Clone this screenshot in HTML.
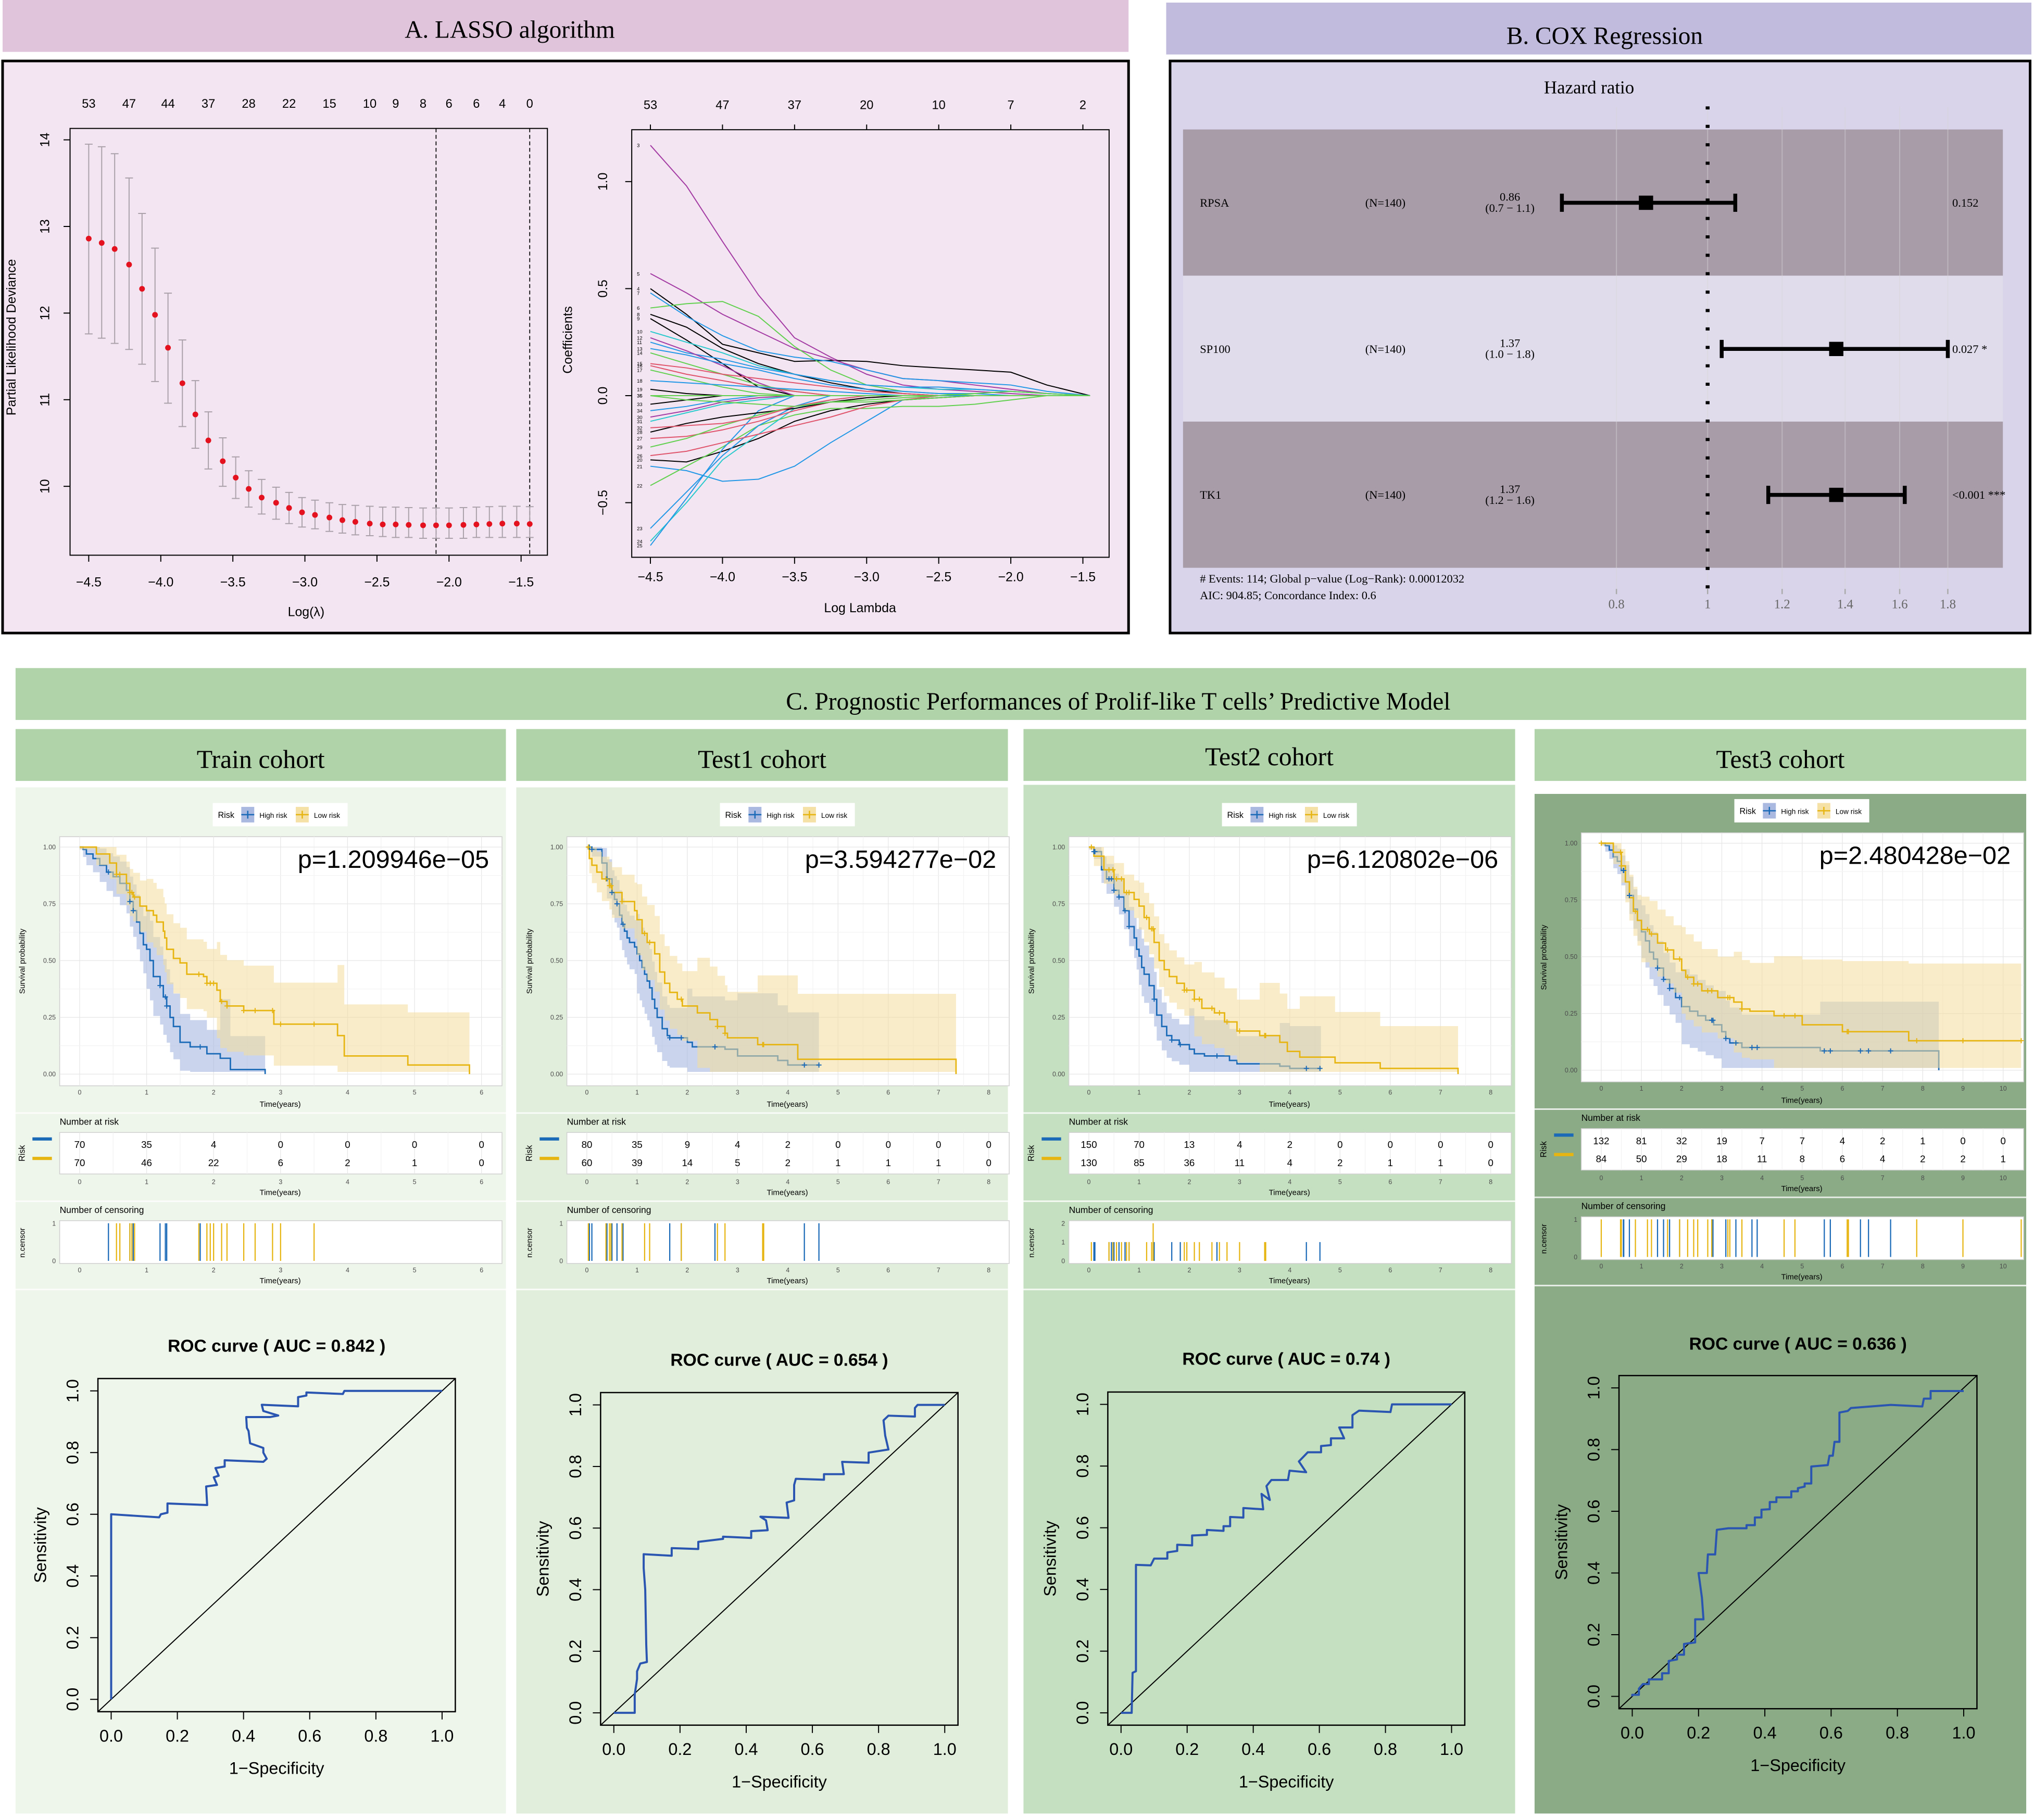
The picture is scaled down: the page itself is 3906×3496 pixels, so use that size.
<!DOCTYPE html>
<html><head><meta charset="utf-8">
<style>
html,body{margin:0;padding:0;background:#fff;}
svg{display:block;}
text{font-family:"Liberation Sans",sans-serif;}
text.serif,.serif text{font-family:"Liberation Serif",serif;}
</style></head>
<body>
<svg id="fig" xmlns="http://www.w3.org/2000/svg" width="3906" height="3496" viewBox="0 0 1568 1403" preserveAspectRatio="none">
<rect x="0" y="0" width="1568" height="1403" fill="#ffffff"/>
<!-- Panel A -->
<rect x="2" y="0" width="868" height="40" fill="#e0c4dc"/>
<text x="393" y="29" font-size="19" text-anchor="middle" class="serif">A. LASSO algorithm</text>
<rect x="2" y="47" width="868" height="441" fill="#f3e6f2" stroke="#000" stroke-width="2"/>
<!-- Panel B -->
<rect x="899" y="2" width="667" height="40" fill="#c1bcdd"/>
<text x="1237" y="34" font-size="19" text-anchor="middle" class="serif">B. COX Regression</text>
<rect x="902" y="47" width="663" height="441" fill="#d9d4ea" stroke="#000" stroke-width="2"/>
<!-- Panel C -->
<rect x="12" y="515" width="1550" height="40" fill="#b0d3a9"/>
<text x="862" y="547" font-size="19" text-anchor="middle" class="serif">C. Prognostic Performances of Prolif-like T cells’ Predictive Model</text>
<g id="cohorts"></g>
</svg>
<script>
const NS="http://www.w3.org/2000/svg";
const S=document.getElementById('fig');
const SERIF='font-family:"Liberation Serif",serif';
function mk(tag,attrs,parent,txt){const e=document.createElementNS(NS,tag);for(const k in attrs)e.setAttribute(k,attrs[k]);(parent||S).appendChild(e);if(txt!==undefined)e.textContent=txt;return e;}

/* ================= LASSO CV data ================= */
const cvLogLambda=[-4.50,-4.41,-4.32,-4.22,-4.13,-4.04,-3.95,-3.85,-3.76,-3.67,-3.57,-3.48,-3.39,-3.30,-3.20,-3.11,-3.02,-2.93,-2.83,-2.74,-2.65,-2.55,-2.46,-2.37,-2.28,-2.18,-2.09,-2.00,-1.90,-1.81,-1.72,-1.63,-1.53,-1.44];
const cvMean=[12.86,12.81,12.74,12.56,12.28,11.98,11.6,11.19,10.83,10.53,10.29,10.1,9.97,9.87,9.81,9.75,9.70,9.67,9.64,9.61,9.59,9.57,9.56,9.56,9.555,9.55,9.55,9.55,9.555,9.56,9.565,9.57,9.57,9.565];
const cvUpper=[13.95,13.92,13.84,13.56,13.15,12.75,12.23,11.69,11.22,10.86,10.56,10.34,10.18,10.08,9.99,9.93,9.87,9.84,9.81,9.79,9.78,9.77,9.76,9.76,9.755,9.75,9.75,9.75,9.755,9.76,9.765,9.77,9.77,9.765];
const cvLower=[11.76,11.71,11.65,11.58,11.41,11.21,10.96,10.69,10.44,10.2,10.0,9.86,9.76,9.68,9.62,9.57,9.53,9.51,9.48,9.46,9.44,9.43,9.42,9.41,9.41,9.40,9.40,9.40,9.40,9.41,9.41,9.41,9.41,9.41];
const cvTopLabels=["53","47","44","37","28","22","15","10","9","8","6","6","4","0"];
const cvTopLabelLambda=[-4.50,-4.22,-3.95,-3.67,-3.39,-3.11,-2.83,-2.55,-2.37,-2.18,-2.00,-1.81,-1.63,-1.44];
const cvVLines=[-2.09,-1.44];
const cvXTicks=[-4.5,-4.0,-3.5,-3.0,-2.5,-2.0,-1.5];
const cvYTicks=[10,11,12,13,14];

/* ================= LASSO coefficient path data ================= */
const pathLambda=[-4.5,-4.25,-4,-3.75,-3.5,-3.25,-3,-2.75,-2.5,-2.25,-2,-1.75,-1.45];
const pathC1=[1.17,0.98,0.72,0.47,0.27,0.18,0.1,0.05,0.03,0.02,0.01,0,0];
const pathC2=[0.50,0.38,0.24,0.2,0.16,0.165,0.16,0.14,0.13,0.12,0.11,0.05,0];
const pathC3=[0.57,0.48,0.38,0.3,0.22,0.17,0.12,0.08,0.07,0.05,0.03,0.01,0];
const pathC4=[0.41,0.43,0.44,0.37,0.23,0.12,0.05,0.02,0.01,0,0,0,0];
const pathC5=[0.48,0.37,0.28,0.21,0.18,0.16,0.12,0.08,0.07,0.06,0.05,0.02,0];
const pathC6=[0.38,0.32,0.22,0.15,0.1,0.06,0.03,0.01,0,0,0,0,0];
const pathC7=[0.36,0.26,0.15,0.04,0,0,0,0,0,0,0,0,0];
const pathC8=[0.30,0.25,0.2,0.14,0.1,0.07,0.05,0.04,0.03,0.03,0.02,0.01,0];
const pathC9=[0.25,0.2,0.17,0.13,0.1,0.07,0.05,0.04,0.04,0.03,0.02,0.01,0];
const pathC10=[0.27,0.21,0.14,0.06,0,0,0,0,0,0,0,0,0];
const pathC11=[0.22,0.19,0.15,0.12,0.08,0.05,0.03,0.02,0.01,0.01,0,0,0];
const pathC12=[0.20,0.15,0.1,0.05,0.02,0,0,0,0,0,0,0,0];
const pathC13=[0.15,0.13,0.10,0.08,0.06,0.04,0.02,0.01,0,0,0,0,0];
const pathC14=[0.14,0.1,0.07,0.04,0.02,0,0,0,0,0,0,0,0];
const pathC15=[0.12,0.08,0.04,0.01,0,0,0,0,0,0,0,0,0];
const pathC16=[0.07,0.06,0.05,0.04,0.03,0.02,0.01,0,0,0,0,0,0];
const pathC17=[0.03,0.01,0,0,0,0,0,0,0,0,0,0,0];
const pathC18=[-0.3,-0.31,-0.26,-0.2,-0.12,-0.07,-0.04,-0.02,-0.01,0,0,0,0];
const pathC19=[-0.33,-0.35,-0.4,-0.39,-0.33,-0.22,-0.12,-0.02,0,0,0,0,0];
const pathC20=[-0.42,-0.33,-0.24,-0.14,-0.09,-0.06,-0.06,-0.05,-0.05,-0.04,-0.02,0,0];
const pathC21=[-0.62,-0.45,-0.28,-0.14,-0.05,0,0,0,0,0,0,0,0];
const pathC22=[-0.68,-0.5,-0.3,-0.18,-0.06,-0.02,0,0,0,0,0,0,0];
const pathC23=[-0.7,-0.48,-0.25,-0.07,0,0,0,0,0,0,0,0,0];
const pathC24=[-0.28,-0.26,-0.22,-0.18,-0.14,-0.1,-0.05,-0.02,0,0,0,0,0];
const pathC25=[-0.2,-0.19,-0.16,-0.12,-0.07,-0.03,-0.01,0,0,0,0,0,0];
const pathC26=[-0.17,-0.13,-0.1,-0.08,-0.06,-0.03,-0.01,0,0,0,0,0,0];
const pathC27=[-0.24,-0.2,-0.14,-0.09,-0.05,-0.03,-0.02,-0.01,0,0,0,0,0];
const pathC28=[-0.1,-0.07,-0.03,-0.01,0,0,0,0,0,0,0,0,0];
const pathC29=[-0.12,-0.08,-0.04,-0.02,0,0,0,0,0,0,0,0,0];
const pathC30=[-0.15,-0.14,-0.13,-0.1,-0.05,-0.02,0,0,0,0,0,0,0];
const pathC31=[-0.04,-0.02,0,0,0,0,0,0,0,0,0,0,0];
const pathC32=[-0.07,-0.05,-0.02,0,0,0,0,0,0,0,0,0,0];
const pathC33=[0,-0.02,-0.03,-0.04,-0.05,-0.03,-0.03,-0.02,-0.01,0,0,0,0];
const pathC34=[0,0,0,0,0,0,0,0,0,0.01,0.02,0.01,0];
const pathSeries=[pathC1,pathC2,pathC3,pathC4,pathC5,pathC6,pathC7,pathC8,pathC9,pathC10,pathC11,pathC12,pathC13,pathC14,pathC15,pathC16,pathC17,pathC18,pathC19,pathC20,pathC21,pathC22,pathC23,pathC24,pathC25,pathC26,pathC27,pathC28,pathC29,pathC30,pathC31,pathC32,pathC33,pathC34];
const pathColorIdx=[5,0,5,2,3,0,0,4,3,5,3,2,1,1,2,3,0,0,3,2,3,4,3,1,1,0,2,5,4,1,0,3,2,2];
const pathTopLabels=["53","47","37","20","10","7","2"];
const pathTopLambda=[-4.5,-4,-3.5,-3,-2.5,-2,-1.5];
const pathYTicks=[-0.5,0.0,0.5,1.0];
const pathYTickLabels=["−0.5","0.0","0.5","1.0"];

/* ================= Cox forest data ================= */
const coxNames=["RPSA","SP100","TK1"];
const coxHR=[0.86,1.37,1.37];
const coxLo=[0.70,1.035,1.16];
const coxHi=[1.07,1.80,1.62];
const coxEst=["0.86","1.37","1.37"];
const coxCI=["(0.7 − 1.1)","(1.0 − 1.8)","(1.2 − 1.6)"];
const coxP=["0.152","0.027 *","<0.001 ***"];
const coxTicks=[0.8,1,1.2,1.4,1.6,1.8];

/* ================= KM data ================= */
const trainHighT=[0,0.05,0.1,0.2,0.3,0.4,0.5,0.6,0.7,0.75,0.8,0.85,0.9,0.95,1.0,1.05,1.1,1.2,1.25,1.3,1.35,1.4,1.5,1.65,1.9,2.1,2.25,2.77,2.77];
const trainHighS=[1,0.99,0.97,0.95,0.92,0.89,0.87,0.84,0.81,0.76,0.72,0.67,0.62,0.57,0.55,0.50,0.43,0.39,0.34,0.30,0.25,0.21,0.14,0.12,0.09,0.07,0.02,0.02,0];
const trainLowT=[0,0.25,0.45,0.55,0.7,0.75,0.8,0.9,1.0,1.1,1.15,1.25,1.27,1.3,1.4,1.5,1.6,1.85,1.9,2.05,2.1,2.2,2.45,2.9,3.85,3.95,4.9,5.82,5.82];
const trainLowS=[1,0.97,0.93,0.88,0.84,0.80,0.78,0.74,0.72,0.70,0.67,0.63,0.60,0.55,0.51,0.49,0.44,0.43,0.40,0.37,0.32,0.30,0.28,0.22,0.17,0.08,0.04,0.04,0];
const trainRiskHigh=[70,35,4,0,0,0,0];
const trainRiskLow=[70,46,22,6,2,1,0];
const trainCensHigh=[0.43,0.75,0.8,1.2,1.28,1.3,1.8];
const trainCensLow=[0.55,0.6,0.75,0.78,0.82,1.78,1.9,1.95,2.0,2.12,2.2,2.45,2.62,2.88,3.0,3.5];

const test1HighT=[0,0.1,0.3,0.4,0.5,0.55,0.6,0.65,0.7,0.75,0.8,0.85,0.95,1.0,1.05,1.1,1.15,1.2,1.25,1.3,1.35,1.4,1.5,1.6,1.65,2.0,2.1,2.75,3.0,3.8,4.0,4.62];
const test1HighS=[1,0.99,0.93,0.86,0.80,0.77,0.75,0.70,0.66,0.63,0.60,0.58,0.56,0.53,0.50,0.47,0.44,0.41,0.38,0.33,0.29,0.25,0.20,0.17,0.16,0.14,0.12,0.11,0.08,0.06,0.04,0.04];
const test1LowT=[0,0.05,0.1,0.2,0.3,0.45,0.5,0.7,0.95,1.0,1.1,1.2,1.35,1.45,1.55,1.65,1.8,1.9,2.2,2.45,2.6,2.75,2.8,3.4,4.2,7.35,7.35];
const test1LowS=[1,0.95,0.92,0.89,0.86,0.83,0.80,0.76,0.72,0.68,0.62,0.58,0.53,0.45,0.40,0.36,0.33,0.30,0.27,0.24,0.21,0.18,0.16,0.13,0.065,0.065,0];
const test1RiskHigh=[80,35,9,4,2,0,0,0,0];
const test1RiskLow=[60,39,14,5,2,1,1,1,0];
const test1CensHigh=[0.05,0.1,0.4,0.5,0.6,0.72,1.65,1.88,2.55,4.33,4.62];
const test1CensLow=[0.03,0.38,0.45,0.48,0.7,1.15,1.25,1.88,2.6,2.75,3.5,3.52];

const test2HighT=[0,0.1,0.25,0.35,0.5,0.6,0.7,0.8,0.9,0.95,1.0,1.05,1.1,1.2,1.3,1.35,1.45,1.55,1.65,1.8,2.0,2.1,2.3,2.8,2.95,3.8,4.0,4.62];
const test2HighS=[1,0.98,0.9,0.86,0.81,0.78,0.72,0.65,0.60,0.55,0.52,0.47,0.44,0.39,0.33,0.26,0.21,0.17,0.15,0.13,0.11,0.09,0.08,0.06,0.045,0.035,0.025,0.025];
const test2LowT=[0,0.1,0.3,0.5,0.7,0.9,1.0,1.1,1.2,1.3,1.4,1.5,1.6,1.75,1.9,2.1,2.25,2.5,2.7,2.95,3.4,3.8,3.95,4.2,4.9,5.8,7.35,7.35];
const test2LowS=[1,0.96,0.90,0.86,0.80,0.77,0.74,0.69,0.64,0.58,0.50,0.46,0.43,0.40,0.37,0.33,0.29,0.27,0.23,0.19,0.17,0.14,0.10,0.075,0.05,0.025,0.025,0];
const test2RiskHigh=[150,70,13,4,2,0,0,0,0];
const test2RiskLow=[130,85,36,11,4,2,1,1,0];
const test2CensHigh=[0.1,0.12,0.4,0.45,0.5,0.6,0.72,0.8,1.3,1.65,1.82,2.55,4.33,4.6];
const test2CensLow=[0.05,0.4,0.48,0.55,0.65,0.75,0.8,1.15,1.25,1.28,1.28,1.9,1.95,2.1,2.2,2.45,2.6,2.75,3.0,3.5,3.52];

const test3HighT=[0,0.1,0.2,0.3,0.4,0.5,0.6,0.7,0.8,0.9,1.0,1.1,1.2,1.3,1.4,1.55,1.7,1.85,2.0,2.2,2.4,2.6,2.8,3.0,3.1,3.2,3.5,5.45,8.4,8.4];
const test3HighS=[1,0.99,0.97,0.94,0.92,0.88,0.83,0.77,0.71,0.66,0.61,0.57,0.52,0.49,0.45,0.40,0.36,0.32,0.28,0.26,0.24,0.22,0.20,0.17,0.14,0.12,0.10,0.085,0.085,0];
const test3LowT=[0,0.3,0.5,0.6,0.7,0.8,0.9,1.0,1.2,1.4,1.6,1.8,2.0,2.1,2.3,2.5,2.9,3.3,3.5,3.7,4.3,5.0,6.0,7.65,10.45];
const test3LowS=[1,0.96,0.9,0.83,0.76,0.70,0.66,0.62,0.60,0.56,0.53,0.49,0.44,0.41,0.38,0.35,0.32,0.30,0.27,0.26,0.24,0.20,0.17,0.13,0.13];
const test3RiskHigh=[132,81,32,19,7,7,4,2,1,0,0];
const test3RiskLow=[84,50,29,18,11,8,6,4,2,2,1];
const test3CensHigh=[0.55,0.56,0.7,1.4,1.55,1.7,1.95,2.75,2.78,3.1,3.35,3.75,3.88,5.55,5.7,6.45,6.65,7.2];
const test3CensLow=[0,0.48,0.5,0.85,1.15,1.25,1.65,1.95,2.15,2.3,2.4,2.65,2.75,3.15,3.2,3.5,4.55,4.82,6.12,6.15,7.85,9.0,10.45];

const cohortNames=["Train cohort","Test1 cohort","Test2 cohort","Test3 cohort"];
const cohortPvals=["p=1.209946e−05","p=3.594277e−02","p=6.120802e−06","p=2.480428e−02"];
const cohortTmax=[6,8,8,10];

/* ================= ROC data ================= */
const trainRocFpr=[0,0,0.145,0.15,0.17,0.17,0.29,0.287,0.32,0.31,0.325,0.315,0.343,0.343,0.46,0.47,0.46,0.46,0.42,0.415,0.41,0.408,0.48,0.505,0.46,0.455,0.565,0.565,0.59,0.59,0.7,0.705,0.81,0.84,1];
const trainRocTpr=[0,0.6,0.59,0.6,0.605,0.635,0.63,0.69,0.695,0.72,0.725,0.75,0.755,0.775,0.77,0.78,0.80,0.815,0.83,0.87,0.88,0.915,0.915,0.92,0.935,0.955,0.95,0.98,0.985,0.995,0.99,1.0,1.0,1.0,1];
const test1RocFpr=[0,0.063,0.063,0.07,0.07,0.08,0.1,0.098,0.095,0.09,0.09,0.175,0.175,0.255,0.255,0.33,0.33,0.415,0.415,0.465,0.46,0.443,0.528,0.522,0.545,0.545,0.55,0.635,0.635,0.695,0.69,0.77,0.77,0.83,0.82,0.815,0.83,0.91,0.91,0.918,1];
const test1RocTpr=[0,0,0.06,0.11,0.135,0.16,0.165,0.22,0.4,0.47,0.515,0.51,0.535,0.532,0.555,0.565,0.572,0.568,0.59,0.593,0.625,0.637,0.633,0.683,0.69,0.74,0.76,0.757,0.775,0.775,0.815,0.812,0.845,0.855,0.9,0.95,0.965,0.962,0.99,1.0,1];
const test2RocFpr=[0,0.032,0.035,0.045,0.045,0.09,0.1,0.14,0.14,0.17,0.17,0.215,0.215,0.26,0.26,0.31,0.31,0.33,0.33,0.37,0.37,0.43,0.425,0.45,0.44,0.455,0.505,0.51,0.56,0.538,0.565,0.605,0.605,0.635,0.635,0.675,0.66,0.7,0.7,0.72,0.815,0.82,0.86,1];
const test2RocTpr=[0,0,0.13,0.135,0.48,0.478,0.5,0.5,0.52,0.525,0.545,0.543,0.575,0.577,0.593,0.59,0.605,0.605,0.635,0.633,0.664,0.66,0.71,0.69,0.735,0.755,0.755,0.785,0.78,0.815,0.845,0.845,0.865,0.868,0.89,0.89,0.925,0.925,0.965,0.98,0.975,1.0,1.0,1];
const test3RocFpr=[0,0,0.02,0.02,0.032,0.05,0.05,0.09,0.09,0.11,0.11,0.135,0.135,0.156,0.156,0.19,0.19,0.215,0.21,0.2,0.225,0.228,0.25,0.255,0.29,0.345,0.345,0.37,0.37,0.39,0.39,0.415,0.415,0.435,0.435,0.48,0.48,0.5,0.5,0.52,0.52,0.54,0.54,0.59,0.595,0.605,0.61,0.625,0.625,0.65,0.66,0.72,0.78,0.875,0.88,0.9,0.9,1];
const test3RocTpr=[0,0.005,0.005,0.025,0.04,0.04,0.055,0.055,0.075,0.075,0.115,0.12,0.135,0.135,0.17,0.175,0.25,0.25,0.32,0.4,0.4,0.46,0.46,0.54,0.545,0.545,0.555,0.555,0.58,0.58,0.605,0.607,0.63,0.63,0.645,0.645,0.665,0.665,0.675,0.68,0.69,0.69,0.745,0.75,0.78,0.78,0.825,0.825,0.92,0.925,0.935,0.94,0.945,0.94,0.965,0.965,0.99,0.99];
const rocAUC=["0.842","0.654","0.74","0.636"];
const rocTicks=[0,0.2,0.4,0.6,0.8,1.0];
const rocTickLabels=["0.0","0.2","0.4","0.6","0.8","1.0"];

/* ================= draw LASSO CV ================= */
(function(){
  const g=mk('g',{});
  
  
  const L=54,R=422,T=99,B=428;
  const xs=l=>68.4+(l+4.5)*(401.7-68.4)/3;
  const ys=v=>107.8+(14-v)*(374.9-107.8)/4;
  const box=mk('rect',{x:L,y:T,width:R-L,height:B-T,fill:'none',stroke:'#000','stroke-width':0.8},g);
  
  
  cvXTicks.forEach(t=>{
    const tk=mk('line',{x1:xs(t),x2:xs(t),y1:B,y2:B+5,stroke:'#000','stroke-width':0.8},g);
    
    
    const lb=mk('text',{x:xs(t),y:452,'font-size':10,'text-anchor':'middle'},g,(t<0?'−':'')+Math.abs(t).toFixed(1));
    
    
  });
  cvYTicks.forEach(t=>{
    const tk=mk('line',{x1:L,x2:L-5,y1:ys(t),y2:ys(t),stroke:'#000','stroke-width':0.8},g);
    
    
    const lb=mk('text',{x:38,y:ys(t),'font-size':10,'text-anchor':'middle',transform:`rotate(-90 38 ${ys(t)})`},g,String(t));
    
    
  });
  const xl=mk('line',{x1:xs(-4.5),x2:xs(-1.5),y1:B,y2:B,stroke:'#000','stroke-width':0.8},g);
  
  
  const yl=mk('line',{x1:L,x2:L,y1:ys(10),y2:ys(14),stroke:'#000','stroke-width':0.8},g);
  
  
  cvTopLabels.forEach((s,i)=>{
    const t=mk('text',{x:xs(cvTopLabelLambda[i]),y:83,'font-size':9.5,'text-anchor':'middle'},g,s);
    
    
  });
  const xt=mk('text',{x:236,y:475,'font-size':10,'text-anchor':'middle'},g,'Log(λ)');
  
  
  const yt=mk('text',{x:12,y:260,'font-size':10,'text-anchor':'middle',transform:'rotate(-90 12 260)'},g,'Partial Likelihood Deviance');
  
  
  cvVLines.forEach(l=>{
    const v=mk('line',{x1:xs(l),x2:xs(l),y1:T,y2:B,stroke:'#000','stroke-width':0.7,'stroke-dasharray':'3,2'},g);
    
    
  });
  cvLogLambda.forEach((l,i)=>{
    const x=xs(l);
    const eb=mk('path',{d:`M${x} ${ys(cvUpper[i])}V${ys(cvLower[i])}M${x-3} ${ys(cvUpper[i])}H${x+3}M${x-3} ${ys(cvLower[i])}H${x+3}`,stroke:'#aaa1ab','stroke-width':0.8,fill:'none'},g);
    
    
    const pt=mk('circle',{cx:x,cy:ys(cvMean[i]),r:2.2,fill:'#e3121e'},g);
    
    
  });
})();

/* ================= draw LASSO coefficient paths ================= */
(function(){
  const g=mk('g',{});
  
  
  const L=487,R=855,T=100,B=429.6;
  const xs=l=>501.4+(l+4.5)*111.13;
  const ys=c=>305-c*165;
  const cols=['#000000','#DF536B','#61D04F','#2297E6','#28C9CC','#A33AA3'];
  const box=mk('rect',{x:L,y:T,width:R-L,height:B-T,fill:'none',stroke:'#000','stroke-width':0.8},g);
  
  
  pathSeries.forEach((ser,k)=>{
    let d='';
    ser.forEach((c,i)=>{d+=(i?'L':'M')+xs(pathLambda[i]).toFixed(1)+' '+ys(c).toFixed(1);});
    const p=mk('path',{d:d,stroke:cols[pathColorIdx[k]],'stroke-width':0.8,fill:'none'},g);
    
    
    const lb=mk('text',{x:491,y:ys(ser[0])+1.5,'font-size':3.8},g,String(k+3));
    
    
  });
  pathTopLambda.forEach((l,i)=>{
    const tk=mk('line',{x1:xs(l),x2:xs(l),y1:T,y2:T-4,stroke:'#000','stroke-width':0.8},g);
    
    
    const t=mk('text',{x:xs(l),y:84,'font-size':9.5,'text-anchor':'middle'},g,pathTopLabels[i]);
    
    
    const bt=mk('line',{x1:xs(l),x2:xs(l),y1:B,y2:B+5,stroke:'#000','stroke-width':0.8},g);
    
    
    const bl=mk('text',{x:xs(l),y:448,'font-size':10,'text-anchor':'middle'},g,'−'+Math.abs(l).toFixed(1));
    
    
  });
  pathYTicks.forEach((c,i)=>{
    const tk=mk('line',{x1:L,x2:L-5,y1:ys(c),y2:ys(c),stroke:'#000','stroke-width':0.8},g);
    
    
    const lb=mk('text',{x:468,y:ys(c),'font-size':10,'text-anchor':'middle',transform:`rotate(-90 468 ${ys(c)})`},g,pathYTickLabels[i]);
    
    
  });
  const xt=mk('text',{x:663,y:472,'font-size':10,'text-anchor':'middle'},g,'Log Lambda');
  
  
  const yt=mk('text',{x:441,y:262,'font-size':10,'text-anchor':'middle',transform:'rotate(-90 441 262)'},g,'Coefficients');
  
  
})();

/* ================= draw Cox forest ================= */
(function(){
  const g=mk('g',{class:'serif'});
  
  
  const xs=v=>1316.4+Math.log(v)*315;
  const rowTop=[99.8,212.5,325];
  const rowFill=['#a89ca9','#e0dcec','#a89ca9'];
  rowTop.forEach((y,i)=>{
    const r=mk('rect',{x:912,y:y,width:632,height:112.7,fill:rowFill[i]},g);
    
    
  });
  coxTicks.forEach(t=>{
    const l=mk('line',{x1:xs(t),x2:xs(t),y1:82.6,y2:454,stroke:'#d8d4d8','stroke-width':0.8,'stroke-opacity':0.45},g);
    
    
    const tk=mk('line',{x1:xs(t),x2:xs(t),y1:454,y2:458,stroke:'#aaa','stroke-width':1},g);
    
    
    const lb=mk('text',{x:xs(t),y:469,'font-size':10,'text-anchor':'middle',fill:'#666',style:SERIF},g,String(t));
    
    
  });
  const ref=mk('line',{x1:xs(1),x2:xs(1),y1:82,y2:456,stroke:'#000','stroke-width':3,'stroke-dasharray':'2.4,11.8'},g);
  
  
  const ht=mk('text',{x:1225,y:72,'font-size':14,'text-anchor':'middle',style:SERIF},g,'Hazard ratio');
  
  
  coxNames.forEach((n,i)=>{
    const cy=rowTop[i]+56.5;
    const a=mk('text',{x:925,y:cy+3,'font-size':9,style:SERIF},g,n);
    
    
    const b=mk('text',{x:1068,y:cy+3,'font-size':9,'text-anchor':'middle',style:SERIF},g,'(N=140)');
    
    
    const c=mk('text',{x:1164,y:cy-1.5,'font-size':9,'text-anchor':'middle',style:SERIF},g,coxEst[i]);
    
    
    const c2=mk('text',{x:1164,y:cy+7,'font-size':9,'text-anchor':'middle',style:SERIF},g,coxCI[i]);
    
    
    const p=mk('text',{x:1505,y:cy+3,'font-size':9,style:SERIF},g,coxP[i]);
    
    
    const ci=mk('path',{d:`M${xs(coxLo[i])} ${cy}H${xs(coxHi[i])}M${xs(coxLo[i])} ${cy-7}V${cy+7}M${xs(coxHi[i])} ${cy-7}V${cy+7}`,stroke:'#000','stroke-width':3,fill:'none'},g);
    
    
    const bx=mk('rect',{x:xs(coxHR[i])-5.5,y:cy-5.5,width:11,height:11,fill:'#000'},g);
    
    
  });
  const f1=mk('text',{x:925,y:449,'font-size':9,style:SERIF},g,'# Events: 114; Global p−value (Log−Rank): 0.00012032');
  
  
  const f2=mk('text',{x:925,y:462,'font-size':9,style:SERIF},g,'AIC: 904.85; Concordance Index: 0.6');
  
  
})();

/* ================= cohort panels ================= */
const KM=[
 {hT:trainHighT,hS:trainHighS,lT:trainLowT,lS:trainLowS,rh:trainRiskHigh,rl:trainRiskLow,ch:trainCensHigh,cl:trainCensLow},
 {hT:test1HighT,hS:test1HighS,lT:test1LowT,lS:test1LowS,rh:test1RiskHigh,rl:test1RiskLow,ch:test1CensHigh,cl:test1CensLow},
 {hT:test2HighT,hS:test2HighS,lT:test2LowT,lS:test2LowS,rh:test2RiskHigh,rl:test2RiskLow,ch:test2CensHigh,cl:test2CensLow},
 {hT:test3HighT,hS:test3HighS,lT:test3LowT,lS:test3LowS,rh:test3RiskHigh,rl:test3RiskLow,ch:test3CensHigh,cl:test3CensLow}
];
const ROC=[[trainRocFpr,trainRocTpr],[test1RocFpr,test1RocTpr],[test2RocFpr,test2RocTpr],[test3RocFpr,test3RocTpr]];
const panelX=[[12,390],[398,777],[789,1168],[1183,1562]];
const panelBodyTop=[607,607,605,612];
const panelFill=['#eef5ea','#e0eedb','#c5e0c0','#8aab86'];
const kmOx=[0,391,778,1173];
const kmOy=[0,0,0,-3];
const rocGeom=[[85.7,340.8,1310,1072.2,1037],[473.2,728.3,1320.4,1083,1047.8],[864.2,1119,1320.4,1082.6,1047],[1258.3,1513.8,1307.7,1069.9,1035.4]];
const BLUE='#1a6ab8', YEL='#e7b512';

const CG=document.getElementById('cohorts');
for(let c=0;c<4;c++){
  const g=mk('g',{},CG);
  
  
  const [px0,px1]=panelX[c];
  const hd=mk('rect',{x:px0,y:562,width:px1-px0,height:40,fill:'#b0d3a9'},g);
  
  
  const ht=mk('text',{x:(px0+px1)/2,y:c==2?590:592,'font-size':20,'text-anchor':'middle',style:SERIF},g,cohortNames[c]);
  
  
  const bd=mk('rect',{x:px0,y:panelBodyTop[c],width:px1-px0,height:1398-panelBodyTop[c],fill:panelFill[c]},g);
  
  
  const ox=kmOx[c], oy=kmOy[c], tmax=cohortTmax[c], D=KM[c];
  [858,926,994].forEach(y=>{
    const wl=mk('line',{x1:px0,x2:px1,y1:y+oy,y2:y+oy,stroke:'#ffffff','stroke-width':1.2,'stroke-opacity':0.8},g);
    
    
  });
  const x0=61.4+ox, x1=371.2+ox;
  const xs=t=>x0+t*(x1-x0)/tmax;
  const Y0=828+oy, Y1=653+oy;
  const ys=s=>Y0-s*(Y0-Y1);
  const BL=46+ox, BR=387+ox;
  const lg=mk('g',{transform:`translate(${ox},${oy})`},g);
  
  
  const lr=mk('rect',{x:164,y:619,width:104,height:18,fill:'#fff'},lg);
  
  
  const lt=mk('text',{x:168,y:630.5,'font-size':6.5},lg,'Risk');
  
  
  const k1=mk('rect',{x:186,y:622,width:10,height:12,fill:'#a9b9e0'},lg);
  
  
  const k1l=mk('path',{d:'M186 628H196M191 625V631',stroke:BLUE,'stroke-width':1},lg);
  
  
  const t1=mk('text',{x:200,y:630.5,'font-size':5.5},lg,'High risk');
  
  
  const k2=mk('rect',{x:228,y:622,width:10,height:12,fill:'#f5e0a6'},lg);
  
  
  const k2l=mk('path',{d:'M228 628H238M233 625V631',stroke:YEL,'stroke-width':1},lg);
  
  
  const t2=mk('text',{x:242,y:630.5,'font-size':5.5},lg,'Low risk');
  
  
  const pb=mk('rect',{x:BL,y:645+oy,width:BR-BL,height:192,fill:'#fff',stroke:'#cfcfcf','stroke-width':0.6},g);
  
  
  for(let t=0;t<=tmax;t+=0.5){
    const gl=mk('line',{x1:xs(t),x2:xs(t),y1:645+oy,y2:837+oy,stroke:t%1?'#f3f3f3':'#e6e6e6','stroke-width':0.5},g);
    
    
  }
  for(let s=0;s<=1.001;s+=0.125){
    const gl=mk('line',{x1:BL,x2:BR,y1:ys(s),y2:ys(s),stroke:(Math.round(s*8)%2)?'#f3f3f3':'#e6e6e6','stroke-width':0.5},g);
    
    
  }
  ['0.00','0.25','0.50','0.75','1.00'].forEach((lab,i)=>{
    const s=i*0.25;
    const yl=mk('text',{x:43+ox,y:ys(s)+1.8,'font-size':5,'text-anchor':'end',fill:'#4d4d4d'},g,lab);
    
    
  });
  const sp=mk('text',{x:19+ox,y:741+oy,'font-size':6,'text-anchor':'middle',transform:`rotate(-90 ${19+ox} ${741+oy})`},g,'Survival probability');
  
  
  function nAt(risk,t){const i=Math.min(risk.length-1,Math.floor(t+1e-9));return Math.max(3,risk[i]);}
  function drawCurve(T,Sv,risk,col,fill,name){
    let up='',lo=[];
    for(let i=0;i<T.length;i++){
      if(Sv[i]<=0) break;
      const tEnd=(i+1<T.length)?T[i+1]:T[i];
      const h=1.96*Math.sqrt(Sv[i]*(1-Sv[i])/nAt(risk,T[i]))+0.01;
      const u=Math.min(1,Sv[i]+h), l=Math.max(0.01,Sv[i]-h);
      up+=(i?'L':'M')+xs(T[i]).toFixed(1)+' '+ys(u).toFixed(1)+'L'+xs(tEnd).toFixed(1)+' '+ys(u).toFixed(1);
      lo.unshift('L'+xs(tEnd).toFixed(1)+' '+ys(l).toFixed(1)+'L'+xs(T[i]).toFixed(1)+' '+ys(l).toFixed(1));
    }
    const band=mk('path',{d:up+lo.join('')+'Z',fill:fill,'fill-opacity':0.55,stroke:'none'},g);
    
    
    let d='M'+xs(T[0]).toFixed(1)+' '+ys(Sv[0]).toFixed(1);
    for(let i=1;i<T.length;i++){d+='H'+xs(T[i]).toFixed(1)+'V'+ys(Sv[i]).toFixed(1);}
    const ln=mk('path',{d:d,stroke:col,'stroke-width':1.1,fill:'none'},g);
    
    
  }
  drawCurve(D.hT,D.hS,D.rh,BLUE,'#9fb2de','high-risk');
  drawCurve(D.lT,D.lS,D.rl,YEL,'#f4dc9a','low-risk');
  function survAt(T,Sv,t){let s=Sv[0];for(let i=0;i<T.length;i++){if(T[i]<=t)s=Sv[i];}return s;}
  function marks(cens,T,Sv,col,name){
    cens.forEach(t=>{
      const x=xs(t),y=ys(survAt(T,Sv,t));
      const m=mk('path',{d:`M${x-2} ${y}H${x+2}M${x} ${y-2}V${y+2}`,stroke:col,'stroke-width':0.8},g);
      
      
    });
  }
  marks(D.ch,D.hT,D.hS,BLUE,'high-risk');
  marks(D.cl,D.lT,D.lS,YEL,'low-risk');
  const pv=mk('text',{x:377+ox,y:669+oy,'font-size':19.5,'text-anchor':'end'},g,cohortPvals[c]);
  
  
  const tickRows=[[842,851],[911,919],[979,987]];
  tickRows.forEach(([ty,tt])=>{
    for(let t=0;t<=tmax;t++){
      const tl=mk('text',{x:xs(t),y:ty+oy+1.8,'font-size':5,'text-anchor':'middle',fill:'#4d4d4d'},g,String(t));
      
      
    }
    const tt1=mk('text',{x:216+ox,y:tt+oy+2.2,'font-size':6,'text-anchor':'middle'},g,'Time(years)');
    
    
  });
  const nr=mk('text',{x:46+ox,y:867+oy,'font-size':7},g,'Number at risk');
  
  
  const rb=mk('rect',{x:BL,y:873+oy,width:BR-BL,height:32,fill:'#fff',stroke:'#cfcfcf','stroke-width':0.6},g);
  
  
  for(let t=0;t<=tmax;t+=0.5){
    const gl=mk('line',{x1:xs(t),x2:xs(t),y1:873+oy,y2:905+oy,stroke:t%1?'#f3f3f3':'#e6e6e6','stroke-width':0.5},g);
    
    
  }
  D.rh.forEach((n,i)=>{
    const a=mk('text',{x:xs(i),y:885+oy,'font-size':7.5,'text-anchor':'middle'},g,String(n));
    
    
  });
  D.rl.forEach((n,i)=>{
    const a=mk('text',{x:xs(i),y:899+oy,'font-size':7.5,'text-anchor':'middle'},g,String(n));
    
    
  });
  const rbH=mk('line',{x1:25+ox,x2:40+ox,y1:878+oy,y2:878+oy,stroke:BLUE,'stroke-width':2.5},g);
  
  
  const rbL=mk('line',{x1:25+ox,x2:40+ox,y1:893+oy,y2:893+oy,stroke:YEL,'stroke-width':2.5},g);
  
  
  const rk=mk('text',{x:19+ox,y:889+oy,'font-size':6.5,'text-anchor':'middle',transform:`rotate(-90 ${19+ox} ${889+oy})`},g,'Risk');
  
  
  const nc=mk('text',{x:46+ox,y:935+oy,'font-size':7},g,'Number of censoring');
  
  
  const cb=mk('rect',{x:BL,y:941+oy,width:BR-BL,height:33,fill:'#fff',stroke:'#cfcfcf','stroke-width':0.6},g);
  
  
  const counts={};
  D.ch.forEach(t=>{counts['h'+t]=(counts['h'+t]||0)+1;});
  D.cl.forEach(t=>{counts['l'+t]=(counts['l'+t]||0)+1;});
  let cmax=1;for(const k in counts)cmax=Math.max(cmax,counts[k]);
  const cy0=972+oy, cyTop=943+oy;
  const cys=n=>cy0-n*(cy0-cyTop)/cmax;
  for(let n=0;n<=cmax;n++){
    const a=mk('text',{x:43+ox,y:cys(n)+1.8,'font-size':5,'text-anchor':'end',fill:'#4d4d4d'},g,String(n));
    
    
  }
  const ncs=mk('text',{x:19+ox,y:958+oy,'font-size':6,'text-anchor':'middle',transform:`rotate(-90 ${19+ox} ${958+oy})`},g,'n.censor');
  
  
  for(const k in counts){
    const t=parseFloat(k.slice(1)), col=k[0]=='h'?BLUE:YEL;
    const b=mk('line',{x1:xs(t),x2:xs(t),y1:cy0,y2:cys(counts[k]),stroke:col,'stroke-width':0.9},g);
    
    
  }
  const [rx0,rx1,ry0,ry1,rTitle]=rocGeom[c];
  const W=rx1-rx0,H=ry0-ry1;
  const rxs=v=>rx0+v*W, rys=v=>ry0-v*H;
  const bl=rxs(-0.04),br=rxs(1.04),bt=rys(1.04),bb=rys(-0.04);
  const rt=mk('text',{x:(bl+br)/2,y:rTitle+5,'font-size':13.5,'font-weight':'bold','text-anchor':'middle'},g,`ROC curve ( AUC =  ${rocAUC[c]} )`);
  
  
  const rbox=mk('rect',{x:bl,y:bt,width:br-bl,height:bb-bt,fill:'none',stroke:'#000','stroke-width':1},g);
  
  
  const dg=mk('line',{x1:bl,y1:bb,x2:br,y2:bt,stroke:'#000','stroke-width':0.8},g);
  
  
  const xa=mk('line',{x1:rxs(0),x2:rxs(1),y1:bb,y2:bb,stroke:'#000','stroke-width':0.8},g);
  
  
  const ya=mk('line',{x1:bl,x2:bl,y1:rys(0),y2:rys(1),stroke:'#000','stroke-width':0.8},g);
  
  
  rocTicks.forEach((v,i)=>{
    const tx=mk('line',{x1:rxs(v),x2:rxs(v),y1:bb,y2:bb+6,stroke:'#000','stroke-width':0.8},g);
    
    
    const lx=mk('text',{x:rxs(v),y:bb+23,'font-size':13,'text-anchor':'middle'},g,rocTickLabels[i]);
    
    
    const ty=mk('line',{x1:bl,x2:bl-6,y1:rys(v),y2:rys(v),stroke:'#000','stroke-width':0.8},g);
    
    
    const lyx=bl-15;
    const ly=mk('text',{x:lyx,y:rys(v),'font-size':13,'text-anchor':'middle',transform:`rotate(-90 ${lyx} ${rys(v)})`},g,rocTickLabels[i]);
    
    
  });
  const rxt=mk('text',{x:(bl+br)/2,y:bb+48,'font-size':13,'text-anchor':'middle'},g,'1−Specificity');
  
  
  const yx=bl-40,yy=(bt+bb)/2;
  const ryt=mk('text',{x:yx,y:yy,'font-size':13,'text-anchor':'middle',transform:`rotate(-90 ${yx} ${yy})`},g,'Sensitivity');
  
  
  const [F,Tp]=ROC[c];
  let d='';
  F.forEach((f,i)=>{d+=(i?'L':'M')+rxs(f).toFixed(1)+' '+rys(Tp[i]).toFixed(1);});
  const rc=mk('path',{d:d,stroke:'#2a55b0','stroke-width':1.6,fill:'none','stroke-linejoin':'round'},g);
  
  
}
</script>
</body></html>
